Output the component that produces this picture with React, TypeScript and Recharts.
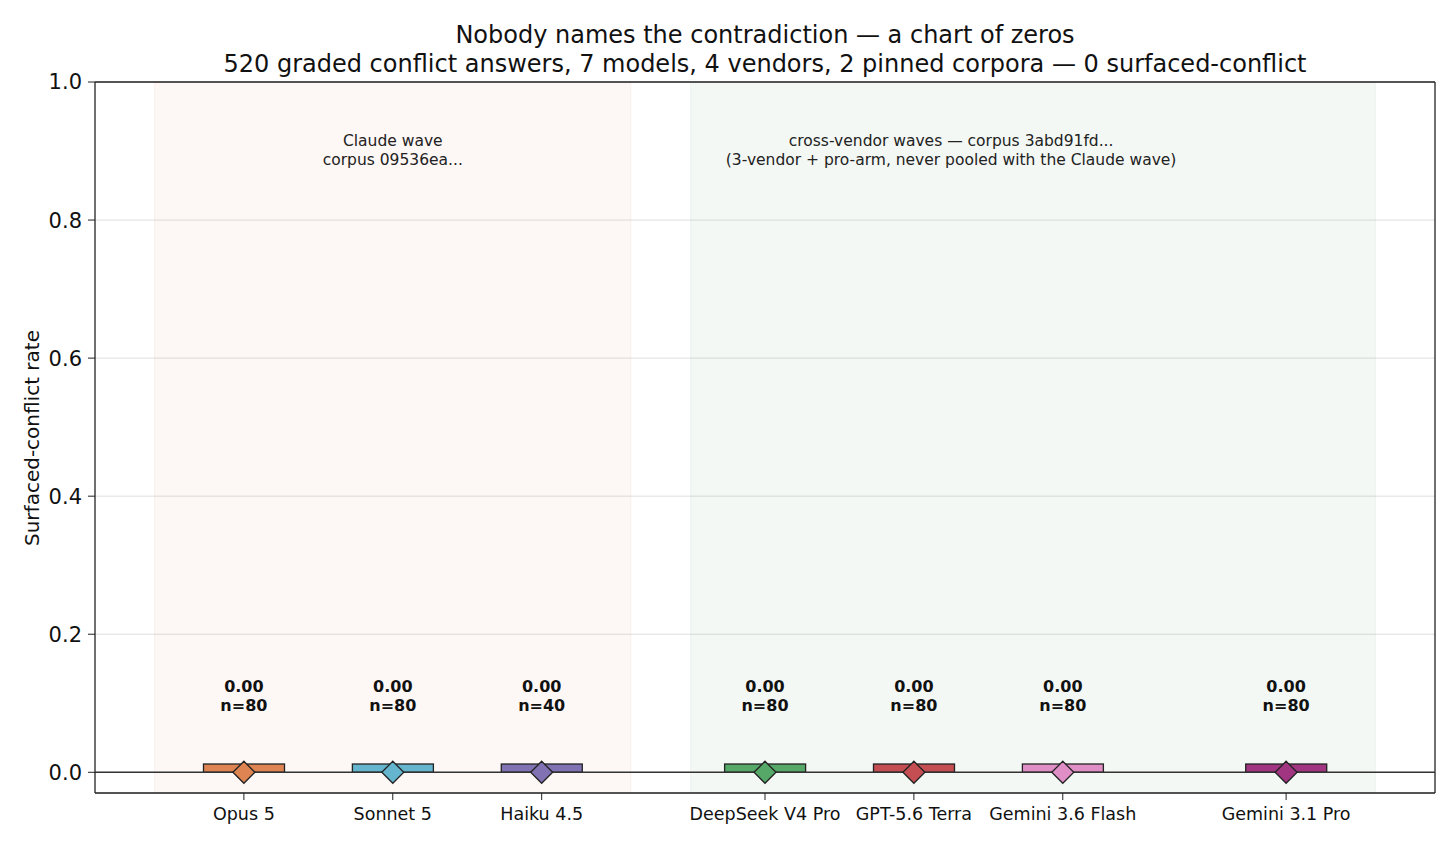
import React from 'react';
import {
  ComposedChart,
  Bar,
  Scatter,
  XAxis,
  YAxis,
  CartesianGrid,
  ReferenceArea,
  ReferenceLine,
  Cell,
} from 'recharts';

// one entry per model; positions leave gaps between the two corpora
const models = ['Opus 5', 'Sonnet 5', 'Haiku 4.5', 'DeepSeek V4 Pro', 'GPT-5.6 Terra', 'Gemini 3.6 Flash', 'Gemini 3.1 Pro'];
const positions = [0, 1, 2, 3.5, 4.5, 5.5, 7];
const rates = [0, 0, 0, 0, 0, 0, 0];
const counts = [80, 80, 40, 80, 80, 80, 80];
const colors = ['#dd8452', '#64b5cd', '#8172b3', '#55a868', '#c44e52', '#e08fc6', '#a23582'];

const yTicks = [0, 0.2, 0.4, 0.6, 0.8, 1.0];

const annotations = [
  { pos: 1, y: 0.9, lines: ['Claude wave', 'corpus 09536ea...'] },
  { pos: 4.75, y: 0.9, lines: ['cross-vendor waves — corpus 3abd91fd...', '(3-vendor + pro-arm, never pooled with the Claude wave)'] },
];

// zero bars still get a sliver so the colour shows
const MIN_BAR = 0.012;
const BAR_W = 81;

const data = models.map((name, i) => ({
  name,
  pos: positions[i],
  rate: rates[i],
  n: counts[i],
  barValue: Math.max(rates[i], MIN_BAR),
}));

const FONT = '"DejaVu Sans", sans-serif';

const WideBar = (props: any) => {
  const { x, y, width, height, index } = props;
  const cx = x + width / 2;
  return (
    <rect
      x={cx - BAR_W / 2}
      y={y}
      width={BAR_W}
      height={height}
      fill={colors[index]}
      stroke="#222"
      strokeWidth={1.3}
    />
  );
};

const Diamond = (props: any) => {
  const { cx, cy, index } = props;
  const r = 11;
  return (
    <polygon
      points={`${cx},${cy - r} ${cx + r},${cy} ${cx},${cy + r} ${cx - r},${cy}`}
      fill={colors[index]}
      stroke="#222"
      strokeWidth={1.3}
    />
  );
};

const ValueLabel = (props: any) => {
  const { cx, cy, payload } = props;
  return (
    <text x={cx} textAnchor="middle" fontFamily={FONT} fontWeight="bold" fontSize={16} fill="#111">
      <tspan x={cx} y={cy - 11}>{payload.rate.toFixed(2)}</tspan>
      <tspan x={cx} y={cy + 8}>{`n=${payload.n}`}</tspan>
    </text>
  );
};

const AnnotationText = (props: any) => {
  const { cx, cy, payload } = props;
  return (
    <text x={cx} textAnchor="middle" fontFamily={FONT} fontSize={15.5} fill="#222">
      {payload.lines.map((l: string, i: number) => (
        <tspan key={i} x={cx} y={cy - 5 + i * 19}>{l}</tspan>
      ))}
    </text>
  );
};

const nameAt = (v: number) => {
  const i = positions.indexOf(v);
  return i >= 0 ? models[i] : '';
};

export default function App() {
  return (
    <div style={{ position: 'absolute', left: 0, top: 0, width: 1456, height: 847, background: '#fff', fontFamily: FONT }}>
      {/* title is centred over the plot area, not the page */}
      <div style={{ position: 'absolute', left: 95, width: 1340, top: 21, textAlign: 'center', fontSize: 24, lineHeight: '29px', color: '#111', whiteSpace: 'nowrap' }}>
        <div>Nobody names the contradiction — a chart of zeros</div>
        <div>520 graded conflict answers, 7 models, 4 vendors, 2 pinned corpora — 0 surfaced-conflict</div>
      </div>
      <div
        style={{
          position: 'absolute',
          left: 32,
          top: 438,
          transform: 'translate(-50%, -50%) rotate(-90deg)',
          fontSize: 20,
          whiteSpace: 'nowrap',
          color: '#111',
        }}
      >
        Surfaced-conflict rate
      </div>
      <ComposedChart
        width={1456}
        height={847}
        data={data}
        margin={{ top: 82, right: 21, bottom: 14, left: 35 }}
      >
        <ReferenceArea x1={-0.6} x2={2.6} y1={-0.03} y2={1} fill="#dc8c6e" fillOpacity={0.07} stroke="#dc8c6e" strokeOpacity={0.08} />
        <ReferenceArea x1={3.0} x2={7.6} y1={-0.03} y2={1} fill="#64a06e" fillOpacity={0.07} stroke="#64a06e" strokeOpacity={0.08} />
        <CartesianGrid vertical={false} stroke="#dedede" strokeWidth={1} />
        <XAxis
          dataKey="pos"
          type="number"
          domain={[-1, 8]}
          allowDataOverflow
          ticks={positions}
          interval={0}
          tickFormatter={nameAt}
          height={40}
          tick={{ fontSize: 17.5, fill: '#111', fontFamily: FONT, dy: 6 }}
          tickLine={{ stroke: '#222' }}
          tickSize={7}
          axisLine={{ stroke: '#222', strokeWidth: 1.3 }}
        />
        <YAxis
          type="number"
          domain={[-0.03, 1]}
          allowDataOverflow
          ticks={yTicks}
          interval={0}
          tickFormatter={(v: number) => v.toFixed(1)}
          width={60}
          tick={{ fontSize: 21, fill: '#111', fontFamily: FONT, dx: -4 }}
          tickLine={{ stroke: '#222' }}
          tickSize={7}
          axisLine={{ stroke: '#222', strokeWidth: 1.3 }}
        />
        <ReferenceLine y={1} stroke="#222" strokeWidth={1.3} />
        <ReferenceLine x={8} stroke="#222" strokeWidth={1.3} />
        <Bar dataKey="barValue" shape={WideBar} isAnimationActive={false}>
          {data.map((d, i) => (
            <Cell key={d.name} fill={colors[i]} />
          ))}
        </Bar>
        <ReferenceLine y={0} stroke="#333" strokeWidth={1.6} />
        <Scatter dataKey="rate" shape={Diamond} isAnimationActive={false} />
        <Scatter dataKey={(d: any) => d.rate + 0.1} shape={ValueLabel} isAnimationActive={false} />
        <Scatter data={annotations} dataKey="y" shape={AnnotationText} isAnimationActive={false} />
      </ComposedChart>
    </div>
  );
}
